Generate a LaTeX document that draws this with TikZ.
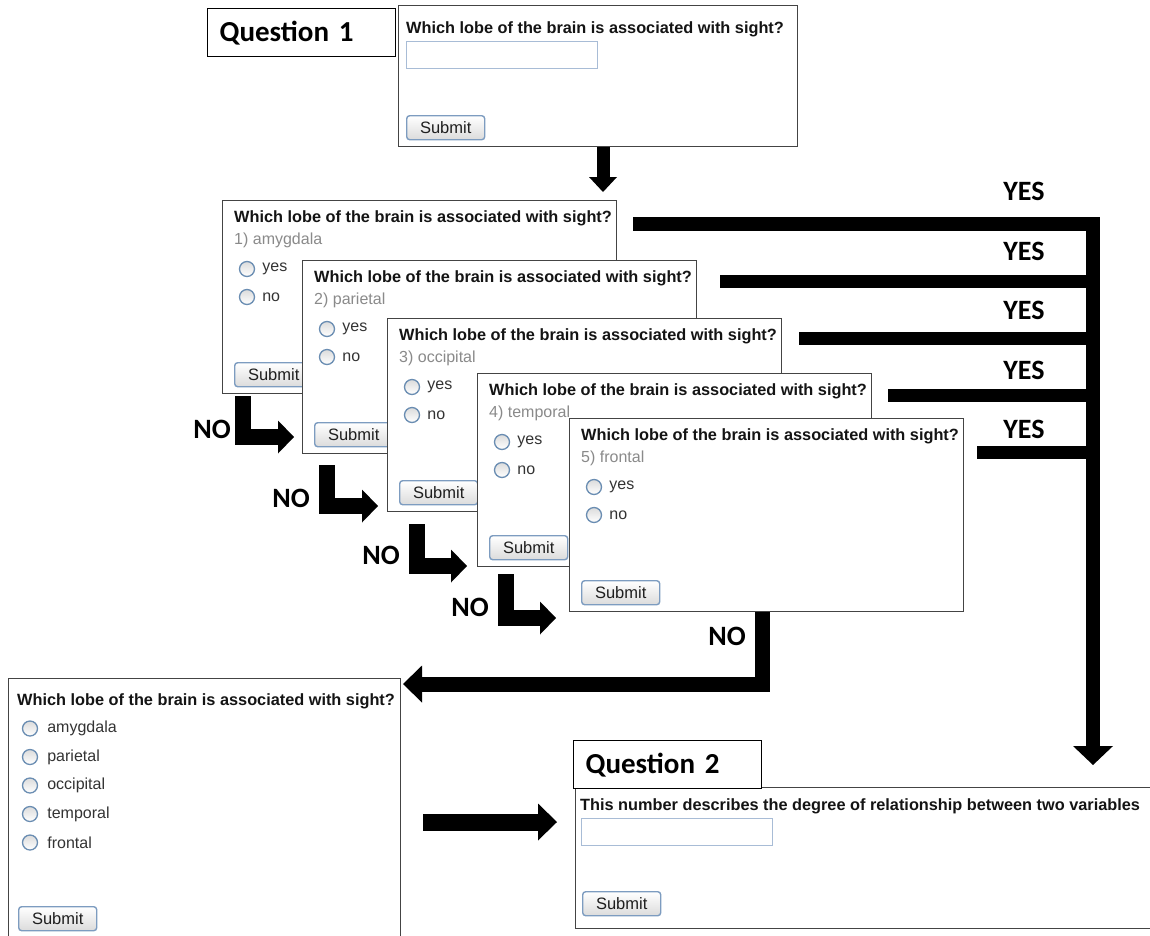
\documentclass[tikz,border=0pt]{standalone}
\usepackage{fontspec}
\setmainfont{Liberation Sans}
\newfontfamily\calibri{Carlito}
\usetikzlibrary{arrows.meta,calc,positioning}

\definecolor{cardline}{HTML}{444444}
\definecolor{radioline}{HTML}{6A8DB2}
\definecolor{btnline}{HTML}{7D9CC0}
\definecolor{fieldline}{HTML}{A8BCD6}
\definecolor{answergray}{HTML}{8A8A8A}
\definecolor{optgray}{HTML}{333333}

% one yes/no card of the stack
\newcommand{\lobecard}[4]{%
  \node[card] (#1) at (#2,#3) {};
  \node[qtitle] (#1-q) at ($(#1.north west)+(12,18)$) {Which lobe of the brain is associated with sight?};
  \node[answer] (#1-a) at ($(#1.north west)+(12,40)$) {#4};
  \node[radio] (#1-yes) at ($(#1.north west)+(25,69)$) {};
  \node[option, right=7pt of #1-yes] {yes};
  \node[radio] (#1-no) at ($(#1.north west)+(25,97)$) {};
  \node[option, right=7pt of #1-no] {no};
  \node[submit] (#1-s) at ($(#1.north west)+(12,162)$) {Submit};
}

\begin{document}
\begin{tikzpicture}[x=1pt, y=-1pt,
    card/.style={draw=cardline, fill=white, line width=1.3pt, anchor=north west, inner sep=0pt,
      minimum width=394pt, minimum height=193pt},
    qbox/.style={draw=black, fill=white, line width=1.3pt, anchor=north west, inner xsep=12pt, inner ysep=0pt,
      text width=164pt, minimum height=48pt, align=left, font=\calibri\bfseries\fontsize{29pt}{34pt}\selectfont},
    qtitle/.style={anchor=west, inner sep=0pt, text=black!92, font=\bfseries\fontsize{16.3pt}{19pt}\selectfont},
    answer/.style={anchor=west, inner sep=0pt, text=answergray, font=\fontsize{16pt}{19pt}\selectfont},
    option/.style={anchor=west, inner sep=0pt, text=optgray, font=\fontsize{16pt}{19pt}\selectfont},
    radio/.style={circle, draw=radioline, line width=1.3pt, top color=black!14, bottom color=white,
      minimum size=15pt, inner sep=0pt},
    submit/.style={anchor=north west, rounded corners=3pt, draw=btnline, line width=1.4pt, top color=white,
      bottom color=black!14, minimum width=78pt, minimum height=24pt, inner sep=0pt, text=black!88,
      font=\fontsize{16.5pt}{19pt}\selectfont},
    field/.style={anchor=north west, draw=fieldline, line width=1.2pt, fill=white, minimum width=191pt,
      minimum height=27pt, inner sep=0pt},
    bigarrow/.style={line width=15pt, -{Triangle[width=37pt,length=19pt,line width=0pt]}},
    larrow/.style={line width=16pt, -{Triangle[width=33pt,length=16pt,line width=0pt]}},
    yesbar/.style={line width=13pt},
    flowlabel/.style={font=\calibri\bfseries\fontsize{28pt}{32pt}\selectfont, inner sep=0pt}]

    \clip (0,0) rectangle (1150,935);
    \fill[white] (0,0) rectangle (1150,935);

    % question 1
    \node[qbox] (q1label) at (207,8) {Question 1};
    \node[card, minimum width=399pt, minimum height=141pt] (q1) at (398,5) {};
    \node[qtitle] (q1-q) at ($(q1.north west)+(8,24)$) {Which lobe of the brain is associated with sight?};
    \node[field] (q1-f) at ($(q1.north west)+(8,36)$) {};
    \node[submit] (q1-s) at ($(q1.north west)+(8,110)$) {Submit};

    \coordinate (stackin) at (603,192);
    \draw[line width=13pt, -{Triangle[width=28pt,length=15pt,line width=0pt]}] (q1.south -| stackin) -- (stackin);

    % the stack of yes/no cards
    \lobecard{c1}{222}{200}{1) amygdala}
    \lobecard{c2}{302}{260}{2) parietal}
    \lobecard{c3}{387}{318}{3) occipital}
    \lobecard{c4}{477}{373}{4) temporal}
    \lobecard{c5}{569}{418}{5) frontal}

    % NO steps
    \coordinate (n1) at (243,396); \coordinate (t1) at (294,437);
    \coordinate (n2) at (327,465); \coordinate (t2) at (378,506);
    \coordinate (n3) at (417,524); \coordinate (t3) at (467,566);
    \coordinate (n4) at (506,574); \coordinate (t4) at (556,618);
    \draw[larrow] (n1) |- (t1);
    \draw[larrow] (n2) |- (t2);
    \draw[larrow] (n3) |- (t3);
    \draw[larrow] (n4) |- (t4);
    \node[flowlabel] (no1) at (212,429) {NO};
    \node[flowlabel] (no2) at (291,498) {NO};
    \node[flowlabel] (no3) at (381,555) {NO};
    \node[flowlabel] (no4) at (470,607) {NO};

    % YES branch
    \coordinate (yestip) at (1093,765);
    \coordinate (y1) at (633,224);
    \coordinate (y2) at (720,281);
    \coordinate (y3) at (799,338);
    \coordinate (y4) at (888,395);
    \coordinate (y5) at (977,452);
    \draw[line width=14pt, -{Triangle[width=40pt,length=19pt,line width=0pt]}] (y1) -- (y1 -| yestip) -- (yestip);
    \draw[yesbar] (y2) -- (y2 -| yestip);
    \draw[yesbar] (y3) -- (y3 -| yestip);
    \draw[yesbar] (y4) -- (y4 -| yestip);
    \draw[yesbar] (y5) -- (y5 -| yestip);
    \node[flowlabel] (yes1) at (1024,191) {YES};
    \node[flowlabel] (yes2) at (1024,251) {YES};
    \node[flowlabel] (yes3) at (1024,310) {YES};
    \node[flowlabel] (yes4) at (1024,370) {YES};
    \node[flowlabel] (yes5) at (1024,429) {YES};

    % last NO goes to the full list
    \coordinate (listin) at (403,684);
    \draw[bigarrow] ($(c5.south west)+(193,0)$) |- (listin);
    \node[flowlabel] (no5) at (727,636) {NO};

    % multiple choice list
    \node[card, minimum width=392pt, minimum height=300pt] (fin) at (8,678) {};
    \node[qtitle] (fin-q) at ($(fin.north west)+(9,23)$) {Which lobe of the brain is associated with sight?};
    \foreach \opt [count=\k] in {amygdala,parietal,occipital,temporal,frontal} {
        \node[radio] (fin-r\k) at ($(fin.north west)+(22,{22+28.5*\k})$) {};
        \node[option, right=9pt of fin-r\k] {\opt};
    }
    \node[submit] (fin-s) at ($(fin.north west)+(10,228)$) {Submit};

    % question 2
    \node[card, minimum width=700pt, minimum height=141pt] (q2) at (575,787) {};
    \node[qbox] (q2label) at (573,740) {Question 2};
    \node[qtitle] (q2-q) at ($(q2.north west)+(5,19)$) {This number describes the degree of relationship between two variables};
    \node[field] (q2-f) at ($(q2.north west)+(6,31)$) {};
    \node[submit] (q2-s) at ($(q2.north west)+(7,104)$) {Submit};

    \coordinate (r1) at (423,822);
    \coordinate (r2) at (557,822);
    \draw[bigarrow, line width=17pt] (r1) -- (r2);
\end{tikzpicture}
\end{document}
